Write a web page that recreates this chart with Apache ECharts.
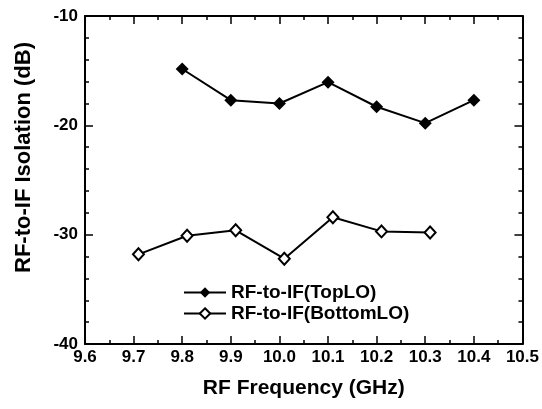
<!DOCTYPE html>
<html>
<head>
<meta charset="utf-8">
<script src="https://cdn.jsdelivr.net/npm/echarts@6/dist/echarts.min.js"></script>
<style>html,body{margin:0;padding:0;background:#fff}#c{width:542px;height:409px}</style>
</head>
<body>
<div id="c"></div>
<script>
const seriesNames = ['RF-to-IF(TopLO)', 'RF-to-IF(BottomLO)'];
const topFreq = [9.8, 9.9, 10.0, 10.1, 10.2, 10.3, 10.4];
const topIso = [-14.85, -17.7, -18.0, -16.05, -18.3, -19.8, -17.7];
const bottomFreq = [9.71, 9.81, 9.91, 10.01, 10.11, 10.21, 10.31];
const bottomIso = [-31.8, -30.1, -29.6, -32.2, -28.4, -29.7, -29.8];
const xTicks = { min: 9.6, max: 10.5, interval: 0.1 };
const yTicks = { min: -40, max: -10, interval: 10 };
const xTitle = 'RF Frequency (GHz)';
const yTitle = 'RF-to-IF Isolation (dB)';

const FONT = "'Liberation Sans', Arial, sans-serif";
const lineCol = '#000';
const axisCommon = {
  axisLine: { show: true, onZero: false, lineStyle: { color: lineCol, width: 2 } },
  axisTick: { show: true, inside: true, length: 8, lineStyle: { color: lineCol, width: 1.5 } },
  minorTick: { show: true, length: 4, lineStyle: { color: lineCol, width: 1.5 } },
  splitLine: { show: false }
};
const labelStyle = { color: '#000', fontFamily: FONT, fontWeight: 'bold', fontSize: 17 };

const chart = echarts.init(document.getElementById('c'), null, { renderer: 'canvas' });
chart.setOption({
  backgroundColor: '#fff',
  animation: false,
  grid: { left: 85, right: 18, top: 16, bottom: 65 },
  legend: {
    orient: 'vertical', left: 183, top: 283, padding: 0,
    itemWidth: 42, itemHeight: 13, itemGap: 2,
    textStyle: { color: '#000', fontFamily: FONT, fontWeight: 'bold', fontSize: 19 },
    data: seriesNames
  },
  xAxis: [
    Object.assign({
      type: 'value', position: 'bottom', min: xTicks.min, max: xTicks.max, interval: xTicks.interval,
      axisLabel: Object.assign({ margin: 5, formatter: v => v.toFixed(1) }, labelStyle),
      name: xTitle, nameLocation: 'middle', nameGap: 34,
      nameTextStyle: { color: '#000', fontFamily: FONT, fontWeight: 'bold', fontSize: 21 }
    }, axisCommon, { minorTick: Object.assign({ splitNumber: 2 }, axisCommon.minorTick) }),
    Object.assign({
      type: 'value', position: 'top', min: xTicks.min, max: xTicks.max, interval: xTicks.interval,
      axisLabel: { show: false }
    }, axisCommon, { minorTick: Object.assign({ splitNumber: 2 }, axisCommon.minorTick) })
  ],
  yAxis: [
    Object.assign({
      type: 'value', position: 'left', min: yTicks.min, max: yTicks.max, interval: yTicks.interval,
      axisLabel: Object.assign({ margin: 7 }, labelStyle),
      name: yTitle, nameLocation: 'middle', nameGap: 50, nameRotate: 90,
      nameTextStyle: { color: '#000', fontFamily: FONT, fontWeight: 'bold', fontSize: 22, padding: [0, 0, 0, 45] }
    }, axisCommon, { minorTick: Object.assign({ splitNumber: 5 }, axisCommon.minorTick) }),
    Object.assign({
      type: 'value', position: 'right', min: yTicks.min, max: yTicks.max, interval: yTicks.interval,
      axisLabel: { show: false }
    }, axisCommon, { minorTick: Object.assign({ splitNumber: 5 }, axisCommon.minorTick) })
  ],
  series: [
    {
      name: seriesNames[0], type: 'line', xAxisIndex: 0, yAxisIndex: 0,
      data: topFreq.map((f, i) => [f, topIso[i]]),
      symbol: 'diamond', symbolSize: [13, 13],
      lineStyle: { color: '#000', width: 2 },
      itemStyle: { color: '#000', borderColor: '#000', borderWidth: 0 }
    },
    {
      name: seriesNames[1], type: 'line', xAxisIndex: 0, yAxisIndex: 0,
      data: bottomFreq.map((f, i) => [f, bottomIso[i]]),
      symbol: 'diamond', symbolSize: [11, 12],
      lineStyle: { color: '#000', width: 2 },
      itemStyle: { color: '#fff', borderColor: '#000', borderWidth: 2 }
    }
  ]
});
</script>
</body>
</html>
